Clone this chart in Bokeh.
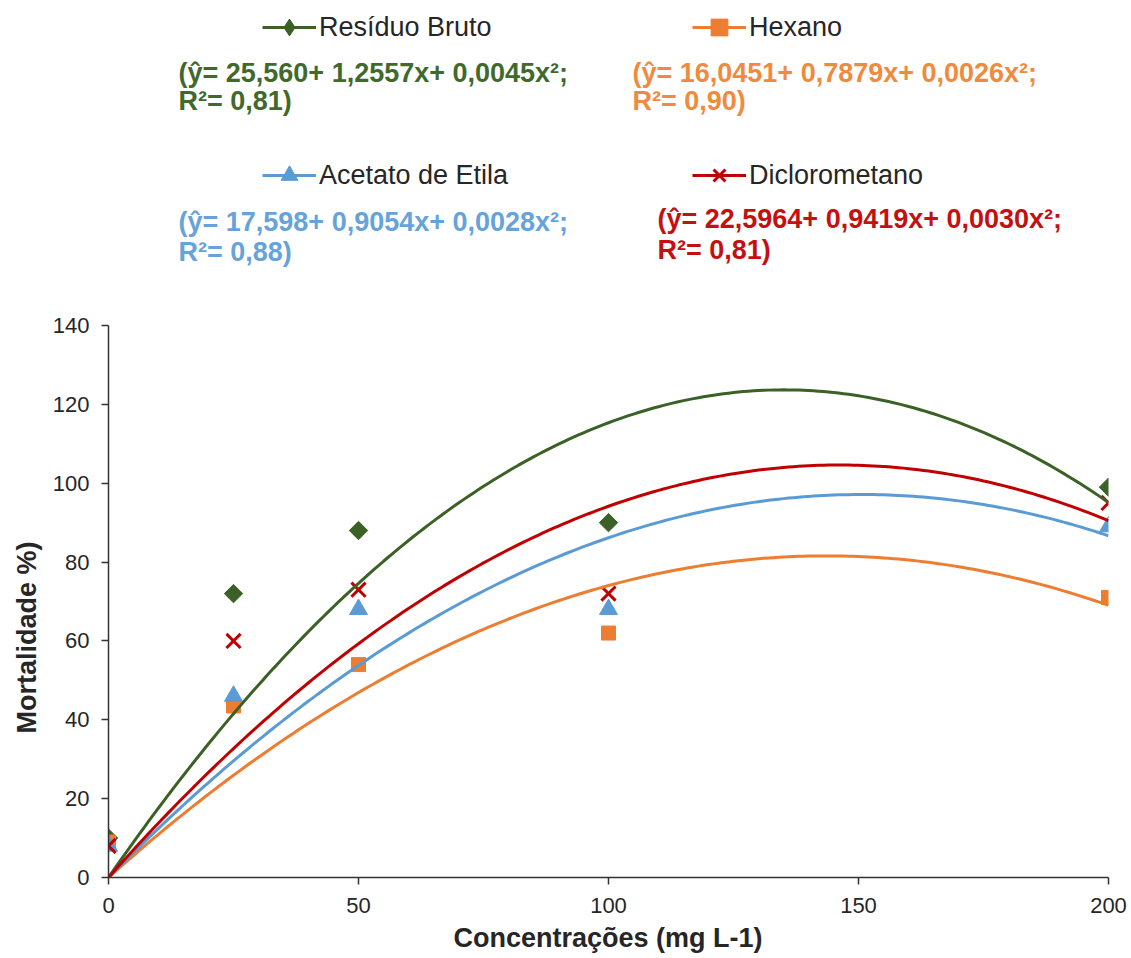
import numpy as np
from math import pi
from bokeh.plotting import figure
from bokeh.layouts import column
from bokeh.models import Range1d, FixedTicker, Label, Legend, LegendItem, Title
from bokeh.embed import file_html
from bokeh.resources import INLINE

# ---------------- data ----------------
concentracoes = [0, 25, 50, 100, 200]
residuo_bruto = [10, 72, 88, 90, 99]
hexano = [9, 43.5, 54, 62, 71]
acetato_etila = [8, 46, 68, 68, 89]
diclorometano = [8, 60, 73, 72, 95]

# polynomial trend lines as drawn in the picture: y = c1*x + c2*x^2
trend_residuo = [1.831, -0.006777]
trend_hexano = [1.1357, -0.003953]
trend_acetato = [1.290, -0.004283]
trend_dicloro = [1.4305, -0.00489]

series_names = ["Resíduo Bruto", "Hexano", "Acetato de Etila", "Diclorometano"]
equation_lines = [
    ["(ŷ= 25,560+ 1,2557x+ 0,0045x²;", "R²= 0,81)"],
    ["(ŷ= 16,0451+ 0,7879x+ 0,0026x²;", "R²= 0,90)"],
    ["(ŷ= 17,598+ 0,9054x+ 0,0028x²;", "R²= 0,88)"],
    ["(ŷ= 22,5964+ 0,9419x+ 0,0030x²;", "R²= 0,81)"],
]
x_ticks = [0, 50, 100, 150, 200]
y_ticks = [0, 20, 40, 60, 80, 100, 120, 140]
x_title = "Concentrações (mg L-1)"
y_title = "Mortalidade %)"

# ---------------- styling ----------------
FONT = "Liberation Sans"
colors = ["#3B6126", "#ED7D31", "#5B9BD5", "#C00000"]
eq_colors = ["#41692C", "#F08A3E", "#66A3DA", "#C41010"]
AXIS = "#333333"
TXT = "#262626"

W = 1131
HEAD_H = 310
MAIN_H = 648
FR_L, FR_T, FR_W, FR_H = 108, 325, 1000, 552
FR_RB = W - FR_L - FR_W

# ---------------- header (legend + equations) ----------------
head = figure(width=W, height=HEAD_H,
              x_range=Range1d(FR_L, FR_L + FR_W), y_range=Range1d(HEAD_H, 0),
              output_backend="svg", toolbar_location=None,
              min_border_left=FR_L, min_border_right=FR_RB,
              min_border_top=0, min_border_bottom=0)
head.axis.visible = False
head.grid.visible = False
head.outline_line_color = None

marker_styles = [
    dict(marker="square", angle=pi / 4, size=13),
    dict(marker="square", size=14),
    dict(marker="triangle", size=18),
    dict(marker="x", size=20, line_width=3),
]
legend_markers = ["diamond", "square", "triangle", "x"]

leg_pos = [(262, 27), (692, 27), (262, 175), (692, 175)]  # glyph left, centre y (image px)
GH = 42
NAN = [float("nan")]
for name, col, mk, (lx, cy) in zip(series_names, colors, legend_markers, leg_pos):
    kl = head.line(x=NAN, y=NAN, line_width=3, color=col)
    km = head.scatter(x=NAN, y=NAN, color=col, marker=mk, line_width=3 if mk == "x" else 1)
    leg = Legend(items=[LegendItem(label=name, renderers=[kl, km])],
                 location=(lx - FR_L, HEAD_H - (cy + GH / 2)),
                 glyph_width=54, glyph_height=GH, label_height=GH,
                 label_standoff=3, padding=0, margin=0, spacing=0,
                 border_line_color=None, background_fill_alpha=0,
                 label_text_font=FONT, label_text_font_size="27px",
                 label_text_color=TXT)
    head.add_layout(leg)

eq_pos = [(178, 72, 100), (632, 72, 100), (178, 221, 251), (657, 218, 249)]
for (l1, l2), col, (ex, b1, b2) in zip(equation_lines, eq_colors, eq_pos):
    for txt, by in ((l1, b1), (l2, b2)):
        head.add_layout(Label(x=ex, y=by, text=txt, text_font=FONT,
                              text_font_size="27px", text_font_style="bold",
                              text_color=col, text_baseline="alphabetic",
                              text_align="left"))

# ---------------- main chart ----------------
p = figure(width=W, height=MAIN_H,
           x_range=Range1d(0, 200), y_range=Range1d(0, 140),
           output_backend="svg", toolbar_location=None,
           min_border_left=FR_L, min_border_right=FR_RB,
           min_border_top=FR_T - HEAD_H, min_border_bottom=MAIN_H - (FR_T - HEAD_H) - FR_H)
p.outline_line_color = None
p.grid.visible = False

for ax, ticks, standoff in ((p.xaxis, x_ticks, 13), (p.yaxis, y_ticks, 12)):
    ax.ticker = FixedTicker(ticks=ticks)
    ax.minor_tick_line_color = None
    ax.major_tick_out = 7
    ax.major_tick_in = 0
    ax.axis_line_color = AXIS
    ax.axis_line_width = 1.5
    ax.major_tick_line_color = AXIS
    ax.major_tick_line_width = 1.5
    ax.major_label_text_font = FONT
    ax.major_label_text_font_size = "22px"
    ax.major_label_text_color = TXT
    ax.major_label_standoff = standoff

series = [residuo_bruto, hexano, acetato_etila, diclorometano]
trends = [trend_residuo, trend_hexano, trend_acetato, trend_dicloro]

for vals, col, ms in zip(series, colors, marker_styles):
    p.scatter(concentracoes, vals, color=col, **ms)

xs = np.linspace(min(concentracoes), max(concentracoes), 201)
for coef, col in zip(trends, colors):
    ys = coef[0] * xs + coef[1] * xs ** 2
    p.line(xs, ys, line_width=3, color=col)

p.add_layout(Title(text=x_title, align="left", offset=453 - FR_L, standoff=10,
                   text_font=FONT, text_font_size="27px", text_font_style="bold",
                   text_color=TXT), "below")
p.add_layout(Title(text=y_title, align="left", offset=FR_T + FR_H - 733, standoff=16,
                   text_font=FONT, text_font_size="27px", text_font_style="bold",
                   text_color=TXT), "left")

open("out.html", "w").write(file_html(column(head, p, spacing=0), INLINE))
